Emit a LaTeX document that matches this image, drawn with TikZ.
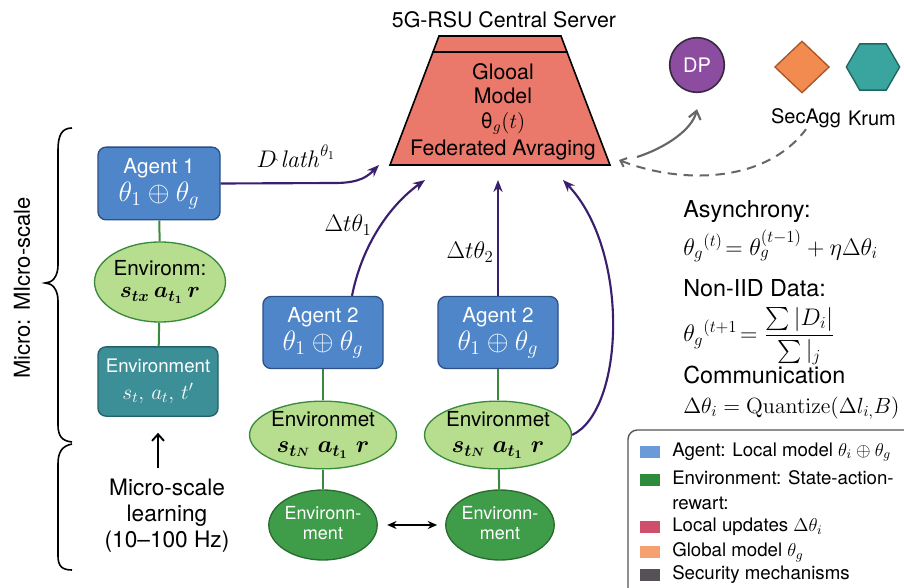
\RequirePackage{fix-cm}
\documentclass[tikz,border=0pt]{standalone}
\usepackage{amsmath}
\usepackage[no-math]{fontspec}
\setmainfont{TeX Gyre Heros}
\usetikzlibrary{shapes.geometric,arrows.meta,calc}
\definecolor{agentblue}{HTML}{4F86C9}
\definecolor{agentborder}{HTML}{2C4F86}
\definecolor{lightgreen}{HTML}{B7DE8F}
\definecolor{greenline}{HTML}{3A8A3C}
\definecolor{tealbox}{HTML}{3C8E97}
\definecolor{tealborder}{HTML}{22626A}
\definecolor{darkgreen}{HTML}{3F9C48}
\definecolor{darkgreenborder}{HTML}{2A6C30}
\definecolor{pline}{HTML}{3A1F6E}
\definecolor{salmon}{HTML}{EA786B}
\definecolor{dppurple}{HTML}{8C4C9F}
\definecolor{secorange}{HTML}{F28B4F}
\definecolor{krumteal}{HTML}{3AA49F}
\definecolor{grayline}{HTML}{666666}
\definecolor{legblue}{HTML}{6A9BD8}
\definecolor{leggreen}{HTML}{2E8B3A}
\definecolor{legred}{HTML}{CF4F6A}
\definecolor{legorange}{HTML}{F5A06E}
\definecolor{leggray}{HTML}{575157}
\newcommand{\fsz}[2]{\fontsize{#1}{#2}\selectfont}
\newcommand{\twolines}[3]{\raisebox{#3}{\begin{tabular}{@{}c@{}}#1\\#2\end{tabular}}}
\begin{document}
\begin{tikzpicture}[x=0.75pt,y=-0.75pt,
  agentbox/.style={draw=agentborder, line width=1pt, fill=agentblue, rounded corners=6pt,
    minimum width=91pt, minimum height=54pt, text=white, align=center, inner sep=0pt, font=\fsz{15.5pt}{20pt}},
  envell/.style={ellipse, draw=greenline, line width=1pt, fill=lightgreen, inner sep=0pt,
    align=center, font=\fsz{15.5pt}{19pt}},
  darkcirc/.style={ellipse, draw=darkgreenborder, line width=1pt, fill=darkgreen, inner sep=0pt,
    minimum width=67.5pt, minimum height=52.5pt, text=white, align=center, font=\fsz{13.5pt}{15pt}},
  gline/.style={draw=greenline, line width=1.5pt},
  parrow/.style={draw=pline, line width=1.6pt, -{Stealth[length=9pt,width=7pt]}},
  lab/.style={font=\fsz{18pt}{20pt}},
  rtext/.style={anchor=west, inner sep=0pt, font=\fsz{17.5pt}{20pt}},
  rmath/.style={anchor=west, inner sep=0pt, font=\fsz{18pt}{20pt}},
  legsq/.style={minimum width=15pt, minimum height=9pt, inner sep=0pt},
  legtext/.style={anchor=west, inner sep=0pt, align=left, font=\fsz{14pt}{19pt}}
]
\useasboundingbox (0,0) rectangle (904,588);
\fill[white] (0,0) rectangle (904,588);
\begin{scope}
\clip (0,0) rectangle (904,588);

% ---- braces and vertical label
\draw[line width=1.2pt] (72,128) .. controls (62,128) and (58,135) .. (58,150) -- (58,265)
  .. controls (58,277) and (52,283) .. (45,283) .. controls (52,283) and (58,289) .. (58,301)
  -- (58,425) .. controls (58,436) and (62,441) .. (72,442);
\draw[line width=1.2pt] (72,444) .. controls (62,446) and (58,452) .. (58,464) -- (58,556)
  .. controls (58,566) and (62,570) .. (72,570);
\node[rotate=90, font=\fsz{16.5pt}{20pt}] (vlab) at (22,288) {Micro: MIcro-scale};

% ---- server
\node[font=\fsz{16pt}{19pt}] (title) at (504,20) {5G-RSU Central Server};
\draw[fill=salmon, line width=1.2pt] (390,165) -- (433,52) -- (567,52) -- (610,165) -- cycle;
\draw[fill=salmon, line width=1.2pt] (433,52) -- (439,36) -- (561,36) -- (567,52) -- cycle;
\node[align=center, inner sep=0pt, font=\fsz{16pt}{18.5pt}] (srv) at (503,112)
  {Glooal\\Model\\θ$_g(t)$\\[2pt]Federated Avraging};
\coordinate (srvA) at (379,165);
\coordinate (srvB) at (425,180);
\coordinate (srvC) at (498,180);
\coordinate (srvD) at (563,180);
\coordinate (srvE) at (619,160);

% ---- security
\node[circle, draw={rgb,255:red,58;green,40;blue,66}, line width=1.2pt, fill=dppurple, minimum size=41pt,
  inner sep=0pt, text=white, font=\fsz{15pt}{17pt}] (dp) at (697,65) {DP};
\node[diamond, draw={rgb,255:red,170;green,85;blue,40}, line width=1pt, fill=secorange, minimum width=41pt,
  minimum height=39pt, inner sep=0pt] (sec) at (802,67) {};
\node[regular polygon, regular polygon sides=6, draw={rgb,255:red,30;green,100;blue,96}, line width=1pt,
  fill=krumteal, minimum size=40pt, inner sep=0pt] (krum) at (873,67) {};
\node[font=\fsz{15pt}{18pt}, inner sep=1pt] (seclab) at (806,118) {SecAgg};
\node[font=\fsz{15pt}{18pt}, inner sep=1pt] (krumlab) at (872,118) {Krum};
\coordinate (gs) at (637,157);
\draw[grayline, line width=1.6pt, -{Straight Barb[length=6pt,width=9pt]}] (gs) .. controls (665,148) and (692,130) .. ([yshift=-12pt]dp.south);
\draw[grayline, line width=1.5pt, dash pattern=on 7pt off 5pt, {Straight Barb[length=4pt,width=7pt]}-]
  (srvE) .. controls (680,184) and (765,184) .. (seclab.south);

% ---- agent 1 column
\node[agentbox, minimum width=91.5pt, minimum height=54.5pt] (a1) at (159,183.5) {Agent 1\\[1pt]{\fsz{21pt}{22pt}$\theta_1\oplus\theta_g$}};
\node[envell, minimum width=87pt, minimum height=60pt] (e1) at (160,282) {Environm:\\[-2pt]{\fsz{17pt}{19pt}\boldmath$s_{tx}\,a_{t_1}\,r$}};
\node[draw=tealborder, line width=1pt, fill=tealbox, rounded corners=6pt, minimum width=90pt, minimum height=52pt,
  text=white, align=center, inner sep=0pt, font=\fsz{14pt}{19pt}] (t1) at (158,381.5) {Environment\\[1pt]{\fsz{16pt}{19pt}$s_t,\,a_t,\,t'$}};
\draw[gline] (a1) -- (e1);
\draw[gline] (e1) -- (t1);
\node[align=center, inner sep=0pt, font=\fsz{17pt}{19.5pt}] (ml) at (167,516) {Micro-scale\\learning\\(10--100 Hz)};
\draw[line width=1.4pt, -{Straight Barb[length=5pt,width=9pt]}] ([yshift=8pt]ml.north -| t1.south) -- ([yshift=-12pt]t1.south);

% ---- agent 2 columns
\node[agentbox, minimum width=90pt] (a2) at (323,332.5) {Agent 2\\[1pt]{\fsz{21pt}{22pt}$\theta_1\oplus\theta_g$}};
\node[agentbox, minimum width=90pt] (a3) at (498,332.5) {Agent 2\\[1pt]{\fsz{21pt}{22pt}$\theta_1\oplus\theta_g$}};
\node[envell, minimum width=90pt, minimum height=45pt] (e2) at (323,435) {Environmet\\[1pt]{\fsz{18pt}{19pt}\boldmath$s_{t\scriptscriptstyle N}\;a_{t_1}\;r$}};
\node[envell, minimum width=90pt, minimum height=45pt] (e3) at (498,435) {Environmet\\[1pt]{\fsz{18pt}{19pt}\boldmath$s_{t\scriptscriptstyle N}\;a_{t_1}\;r$}};
\node[darkcirc] (c2) at (323,525) {\twolines{Environn-}{ment}{-5pt}};
\node[darkcirc, minimum width=69pt] (c3) at (500,525) {\twolines{Environn-}{ment}{-5pt}};
\draw[gline] (a2) -- (e2);
\draw[gline] (e2) -- (c2);
\draw[gline] (a3) -- (e3);
\draw[gline] (e3) -- (c3);
\draw[line width=1.4pt, {Stealth[length=7pt,width=6pt]}-{Stealth[length=7pt,width=6pt]}, shorten <=7pt, shorten >=6pt] (c2) -- (c3);

% ---- purple update arrows
\draw[parrow] (a1.east) -- (335,183) .. controls (360,183) and (368,176) .. (srvA);
\node[lab] (dlab) at (296,158) {$D_{\hat{}}\,\mathit{lath}^{\theta_1}$};
\draw[parrow] ([xshift=21.75pt]a2.north) .. controls (362,245) and (390,205) .. (srvB);
\node[lab] (l1) at (348,225) {$\Delta t\theta_1$};
\draw[parrow] (a3.north) -- (srvC);
\node[lab] (l2) at (470,252) {$\Delta t\theta_2$};
\draw[parrow] (e3.east) .. controls (625,410) and (630,250) .. (srvD);

% ---- right text
\node[rtext] (asy) at (683,212) {Asynchrony:};
\node[rmath] (f1) at (683,246) {$\theta_g{}^{(t)}\!=\theta_g^{(t-1)}+\eta\Delta\theta_i$};
\node[rtext] (nid) at (683,288) {Non-IID Data:};
\node[rmath] (f2) at (683,336) {$\theta_g{}^{(t+1}\!=\dfrac{\sum|D_i|}{\sum|_j}$};
\node[rtext] (com) at (683,375) {Communication};
\node[rmath, font=\fsz{16.5pt}{20pt}] (f3) at (683,408) {$\Delta\theta_i=\mathrm{Quantize}(\Delta l_{i,}B)$};

% ---- legend
\draw[draw=leggray, line width=1pt, fill=white, rounded corners=7pt] (628,430) rectangle (920,600);
\node[legsq, fill=legblue] (s1) at (650,452) {};
\node[legtext] (t1l) at (672,452) {Agent: Local model $\theta_i\oplus\theta_g$};
\node[legsq, fill=leggreen] (s2) at (650,480) {};
\node[legtext, anchor=north west] (t2l) at (672,470) {Environment: State-action-\\rewart:};
\node[legsq, fill=legred] (s3) at (650,527) {};
\node[legtext] (t3l) at (672,527) {Local updates $\Delta\theta_i$};
\node[legsq, fill=legorange] (s4) at (650,552) {};
\node[legtext] (t4l) at (672,552) {Global model $\theta_g$};
\node[legsq, fill=leggray] (s5) at (650,575) {};
\node[legtext] (t5l) at (672,575) {Security mechanisms};
\end{scope}
\end{tikzpicture}
\end{document}
